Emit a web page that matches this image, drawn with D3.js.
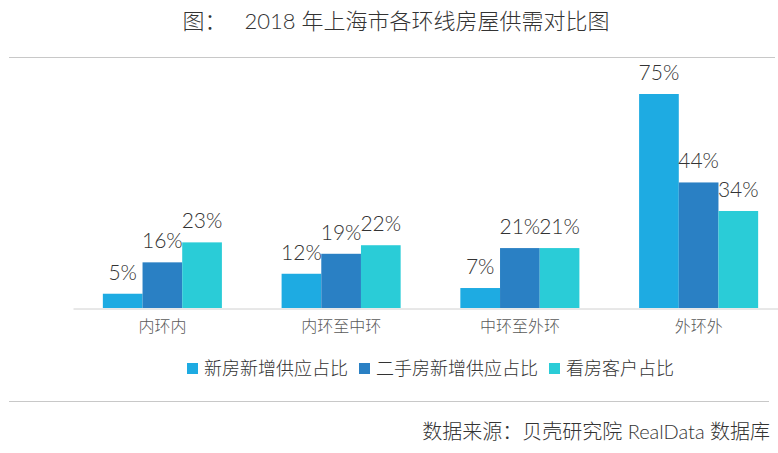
<!DOCTYPE html>
<html>
<head>
  <meta charset="utf-8">
  <script src="https://d3js.org/d3.v7.min.js"></script>
  <style>
    body { margin: 0; background: #fff; }
    svg text { font-family: Lato, "Noto Sans CJK SC", sans-serif; font-weight: 300; }
  </style>
</head>
<body>
<script>
  // chart data
  var categories = ["内环内", "内环至中环", "中环至外环", "外环外"];
  var seriesNames = ["新房新增供应占比", "二手房新增供应占比", "看房客户占比"];
  var newSupply = [5, 12, 7, 75];
  var resaleSupply = [16, 19, 21, 44];
  var viewers = [23, 22, 21, 34];
  var colors = ["#1eabe2", "#2a80c4", "#2accd7"];

  var width = 778, height = 453;
  var baseY = 308;

  var svg = d3.select("body").append("svg")
      .attr("width", width)
      .attr("height", height);

  // title
  svg.append("text")
      .attr("x", 396)
      .attr("y", 29)
      .attr("text-anchor", "middle")
      .style("font-size", "22px")
      .style("fill", "#333")
      .style("white-space", "pre")
      .text("图：   2018 年上海市各环线房屋供需对比图");

  svg.append("line")
      .attr("x1", 9).attr("x2", 775)
      .attr("y1", 57.5).attr("y2", 57.5)
      .style("stroke", "#c8c8c8");

  // scales
  var x0 = d3.scaleBand()
      .domain(categories)
      .range([73, 788])
      .paddingInner(0.334)
      .paddingOuter(0.167);

  var x1 = d3.scaleBand()
      .domain(seriesNames)
      .range([0, x0.bandwidth()]);

  var y = d3.scaleLinear()
      .domain([0, 75])
      .range([baseY, 94]);

  var rows = categories.map(function (c, i) {
    return { cat: c, vals: [newSupply[i], resaleSupply[i], viewers[i]] };
  });

  var groups = svg.selectAll(".grp")
      .data(rows)
      .enter().append("g")
      .attr("class", "grp")
      .attr("transform", function (d) { return "translate(" + x0(d.cat) + ",0)"; });

  groups.selectAll("rect")
      .data(function (d) { return d.vals.map(function (v, j) { return { s: seriesNames[j], v: v, j: j }; }); })
      .enter().append("rect")
      .attr("x", function (d) { return x1(d.s); })
      .attr("width", x1.bandwidth())
      .attr("y", function (d) { return y(d.v); })
      .attr("height", function (d) { return baseY - y(d.v); })
      .style("fill", function (d) { return colors[d.j]; });

  groups.selectAll(".lbl")
      .data(function (d) { return d.vals.map(function (v, j) { return { s: seriesNames[j], v: v }; }); })
      .enter().append("text")
      .attr("class", "lbl")
      .attr("x", function (d) { return x1(d.s) + x1.bandwidth() / 2; })
      .attr("y", function (d) { return y(d.v) - 14; })
      .attr("text-anchor", "middle")
      .style("font-size", "21px")
      .style("fill", "#333")
      .text(function (d) { return d.v + "%"; });

  // x axis
  var xAxis = svg.append("g")
      .attr("transform", "translate(0," + (baseY + 0.5) + ")")
      .call(d3.axisBottom(x0).tickSize(0).tickPadding(12));

  xAxis.select(".domain").style("stroke", "#d0d0d0");
  xAxis.selectAll(".tick text")
      .style("font-size", "16px")
      .style("fill", "#595959")
      .style("font-family", "\"Noto Sans CJK SC\", sans-serif")
      .style("font-weight", "300");

  // legend
  var legend = svg.append("g").attr("transform", "translate(187,363)");
  var lx = 0;
  seriesNames.forEach(function (name, i) {
    var item = legend.append("g").attr("transform", "translate(" + lx + ",0)");
    item.append("rect")
        .attr("width", 11).attr("height", 11)
        .style("fill", colors[i]);
    var t = item.append("text")
        .attr("x", 17)
        .attr("y", 12)
        .style("font-size", "18px")
        .style("fill", "#333")
        .text(name);
    lx += 17 + t.node().getComputedTextLength() + 11;
  });

  svg.append("line")
      .attr("x1", 9).attr("x2", 769)
      .attr("y1", 401.5).attr("y2", 401.5)
      .style("stroke", "#c8c8c8");

  // source
  svg.append("text")
      .attr("x", 770)
      .attr("y", 439)
      .attr("text-anchor", "end")
      .style("font-size", "20px")
      .style("fill", "#333")
      .text("数据来源：贝壳研究院 RealData 数据库");
</script>
</body>
</html>
